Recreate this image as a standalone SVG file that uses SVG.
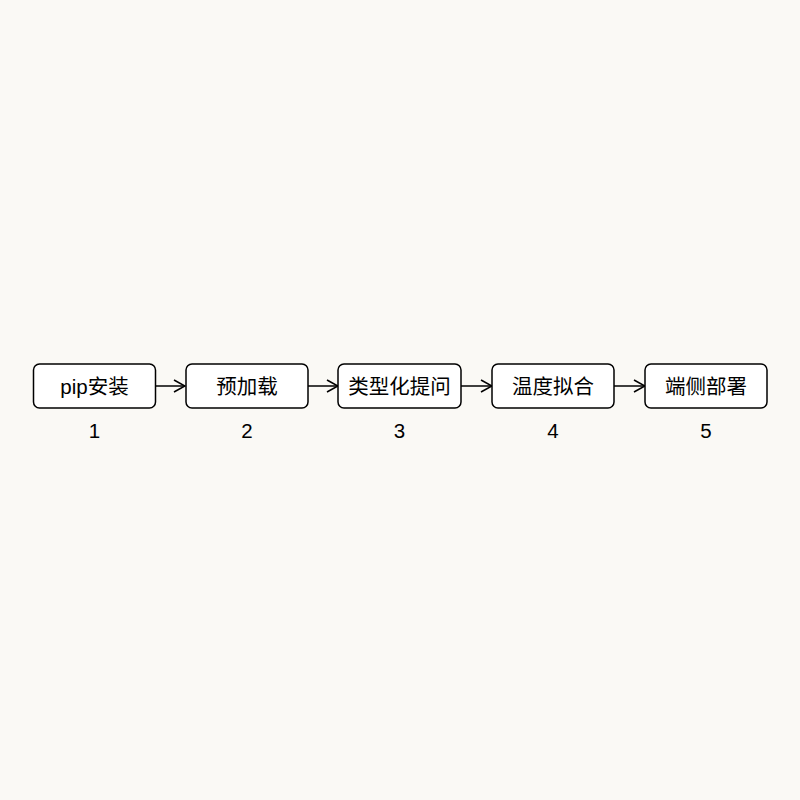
<svg xmlns="http://www.w3.org/2000/svg" width="800" height="800" viewBox="0 0 800 800">
<style>
.box{fill:#ffffff;stroke:#000000;stroke-width:1.5}
.lbl{font-family:"Liberation Sans","Noto Sans CJK SC",sans-serif;font-size:20.5px;fill:#000000;text-anchor:middle;dominant-baseline:central}
.num{font-family:"Liberation Sans","Noto Sans CJK SC",sans-serif;font-size:20.5px;fill:#000000;text-anchor:middle;dominant-baseline:central}
.edge{stroke:#000000;stroke-width:1.5;fill:none}
</style>
<defs>
<marker id="arr" markerWidth="14" markerHeight="14" refX="13" refY="7" orient="auto" markerUnits="userSpaceOnUse">
<path d="M2,1 L13,7 L2,13" fill="none" stroke="#000000" stroke-width="1.6"/>
</marker>
</defs>
<rect width="800" height="800" fill="#faf9f5"/>
<g id="connectors">
<line class="edge" x1="155" y1="386" x2="185" y2="386" marker-end="url(#arr)"/>
<line class="edge" x1="308" y1="386" x2="338" y2="386" marker-end="url(#arr)"/>
<line class="edge" x1="461" y1="386" x2="492" y2="386" marker-end="url(#arr)"/>
<line class="edge" x1="614" y1="386" x2="645" y2="386" marker-end="url(#arr)"/>
</g>
<g id="node1">
<rect class="box" x="33.5" y="364" width="122" height="44" rx="6"/>
<text class="lbl" x="94.5" y="386">pip安装</text>
<text class="num" x="94.5" y="430">1</text>
</g>
<g id="node2">
<rect class="box" x="186" y="364" width="122" height="44" rx="6"/>
<text class="lbl" x="247" y="386">预加载</text>
<text class="num" x="247" y="430">2</text>
</g>
<g id="node3">
<rect class="box" x="338" y="364" width="123" height="44" rx="6"/>
<text class="lbl" x="399.5" y="386">类型化提问</text>
<text class="num" x="399.5" y="430">3</text>
</g>
<g id="node4">
<rect class="box" x="492" y="364" width="122" height="44" rx="6"/>
<text class="lbl" x="553" y="386">温度拟合</text>
<text class="num" x="553" y="430">4</text>
</g>
<g id="node5">
<rect class="box" x="645" y="364" width="122" height="44" rx="6"/>
<text class="lbl" x="706" y="386">端侧部署</text>
<text class="num" x="706" y="430">5</text>
</g>
</svg>
